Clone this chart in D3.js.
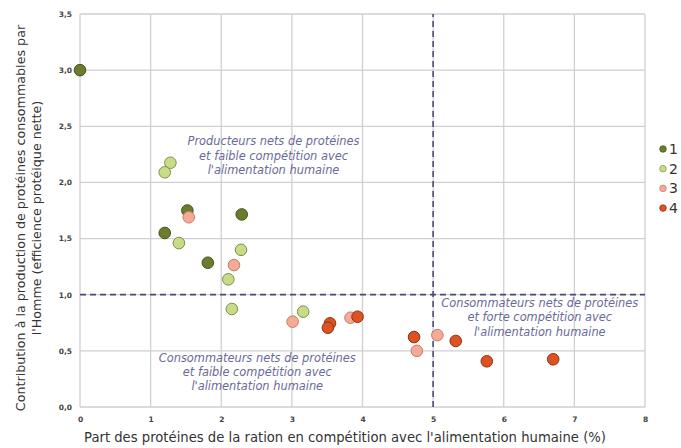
<!DOCTYPE html>
<html><head><meta charset="utf-8">
<script src="https://cdn.jsdelivr.net/npm/d3@7"></script>
<style>body{margin:0;background:#fff}svg{display:block}</style>
</head><body><svg id="c" width="681" height="448"></svg>
<script>
const xTicks = [0,1,2,3,4,5,6,7,8];
const yTicks = [0,0.5,1.0,1.5,2.0,2.5,3.0,3.5];
const seriesNames = ["1","2","3","4"];
const seriesColors = ["#6b7d2c","#c8dc87","#f5aa95","#dc5223"];
const seriesStroke = ["#44521a","#7f8f4c","#c07d6c","#8c3113"];
const s1x = [0, 1.52, 1.20, 1.81, 2.29];
const s1y = [3.0, 1.75, 1.55, 1.285, 1.715];
const s2x = [1.28, 1.20, 1.40, 2.28, 2.10, 2.15, 3.16];
const s2y = [2.175, 2.09, 1.46, 1.40, 1.137, 0.873, 0.849];
const s3x = [1.54, 2.18, 3.01, 3.83, 4.77, 5.06];
const s3y = [1.69, 1.264, 0.76, 0.795, 0.50, 0.64];
const s4x = [3.54, 3.51, 3.93, 4.73, 5.32, 5.76, 6.70];
const s4y = [0.745, 0.706, 0.804, 0.623, 0.588, 0.407, 0.425];
const thresholdX = 5, thresholdY = 1.0;
const annotations = [
  {x:2.74, y:2.33, lines:["Producteurs nets de protéines","et faible compétition avec","l'alimentation humaine"]},
  {x:2.51, y:0.405, lines:["Consommateurs nets de protéines","et faible compétition avec","l'alimentation humaine"]},
  {x:6.51, y:0.89, lines:["Consommateurs nets de protéines","et forte compétition avec","l'alimentation humaine"]}
];
const xTitle = "Part des protéines de la ration en compétition avec l'alimentation humaine (%)";
const yTitle = ["Contribution à la production de protéines consommables par","l'Homme (efficience protéique nette)"];

const svg = d3.select("#c");
const x = d3.scaleLinear().domain([0,8]).range([80,645]);
const y = d3.scaleLinear().domain([0,3.5]).range([407,14]);
const fmt = d => d3.format(".1f")(d).replace(".",",");

// grid
svg.append("g").selectAll("line").data(xTicks).join("line")
  .attr("x1",d=>x(d)).attr("x2",d=>x(d)).attr("y1",y(0)).attr("y2",y(3.5))
  .attr("stroke","#cfcfd4").attr("stroke-width",1.3);
svg.append("g").selectAll("line").data(yTicks).join("line")
  .attr("x1",x(0)).attr("x2",x(8)).attr("y1",d=>y(d)).attr("y2",d=>y(d))
  .attr("stroke","#cfcfd4").attr("stroke-width",1.3);

// axes (labels only)
const xa = svg.append("g").attr("transform",`translate(0,${y(0)})`)
  .call(d3.axisBottom(x).tickValues(xTicks).tickSize(0).tickPadding(10).tickFormat(d3.format("d")));
xa.select(".domain").remove();
const ya = svg.append("g").attr("transform",`translate(${x(0)},0)`)
  .call(d3.axisLeft(y).tickValues(yTicks).tickSize(0).tickPadding(8).tickFormat(fmt));
ya.select(".domain").remove();
svg.selectAll(".tick text").attr("font-family","DejaVu Sans").attr("font-size",7.5)
  .attr("font-weight","bold").attr("fill","#444");

// threshold lines
svg.append("line").attr("x1",x(0)).attr("x2",x(8)).attr("y1",y(thresholdY)).attr("y2",y(thresholdY))
  .attr("stroke","#4b4b78").attr("stroke-width",1.8).attr("stroke-dasharray","6,4");
svg.append("line").attr("x1",x(thresholdX)).attr("x2",x(thresholdX)).attr("y1",y(0)).attr("y2",y(3.5))
  .attr("stroke","#4b4b78").attr("stroke-width",1.6).attr("stroke-dasharray","6,4");

// annotations
annotations.forEach(a=>{
  const t = svg.append("text").attr("x",x(a.x)).attr("y",y(a.y)).attr("text-anchor","middle")
    .attr("font-family","DejaVu Sans").attr("font-style","italic").attr("font-size",11.4).attr("fill","#6a6a98");
  a.lines.forEach((l,i)=>t.append("tspan").attr("x",x(a.x)).attr("dy",i?14.3:0).text(l));
});

// points
const series = [[s1x,s1y],[s2x,s2y],[s3x,s3y],[s4x,s4y]];
series.forEach((s,i)=>{
  svg.append("g").selectAll("circle").data(s[0].map((v,j)=>[v,s[1][j]])).join("circle")
    .attr("cx",d=>x(d[0])).attr("cy",d=>y(d[1])).attr("r",5.8)
    .attr("fill",seriesColors[i]).attr("stroke",seriesStroke[i]).attr("stroke-width",1);
});

// legend
const lg = svg.append("g");
seriesNames.forEach((n,i)=>{
  lg.append("circle").attr("cx",663).attr("cy",149+i*19.7).attr("r",3.3)
    .attr("fill",seriesColors[i]).attr("stroke",seriesStroke[i]).attr("stroke-width",0.7);
  lg.append("text").attr("x",669).attr("y",149+i*19.7+5).attr("font-family","DejaVu Sans")
    .attr("font-size",14).attr("fill","#333").text(n);
});

// titles
svg.append("text").attr("x",345).attr("y",442).attr("text-anchor","middle")
  .attr("font-family","DejaVu Sans").attr("font-size",13.2).attr("fill","#333").text(xTitle);
const yt = svg.append("text").attr("transform","translate(25,218) rotate(-90)").attr("text-anchor","middle")
  .attr("font-family","DejaVu Sans").attr("font-size",12.7).attr("fill","#333");
yTitle.forEach((l,i)=>yt.append("tspan").attr("x",0).attr("dy",i?16:0).text(l));
</script></body></html>
